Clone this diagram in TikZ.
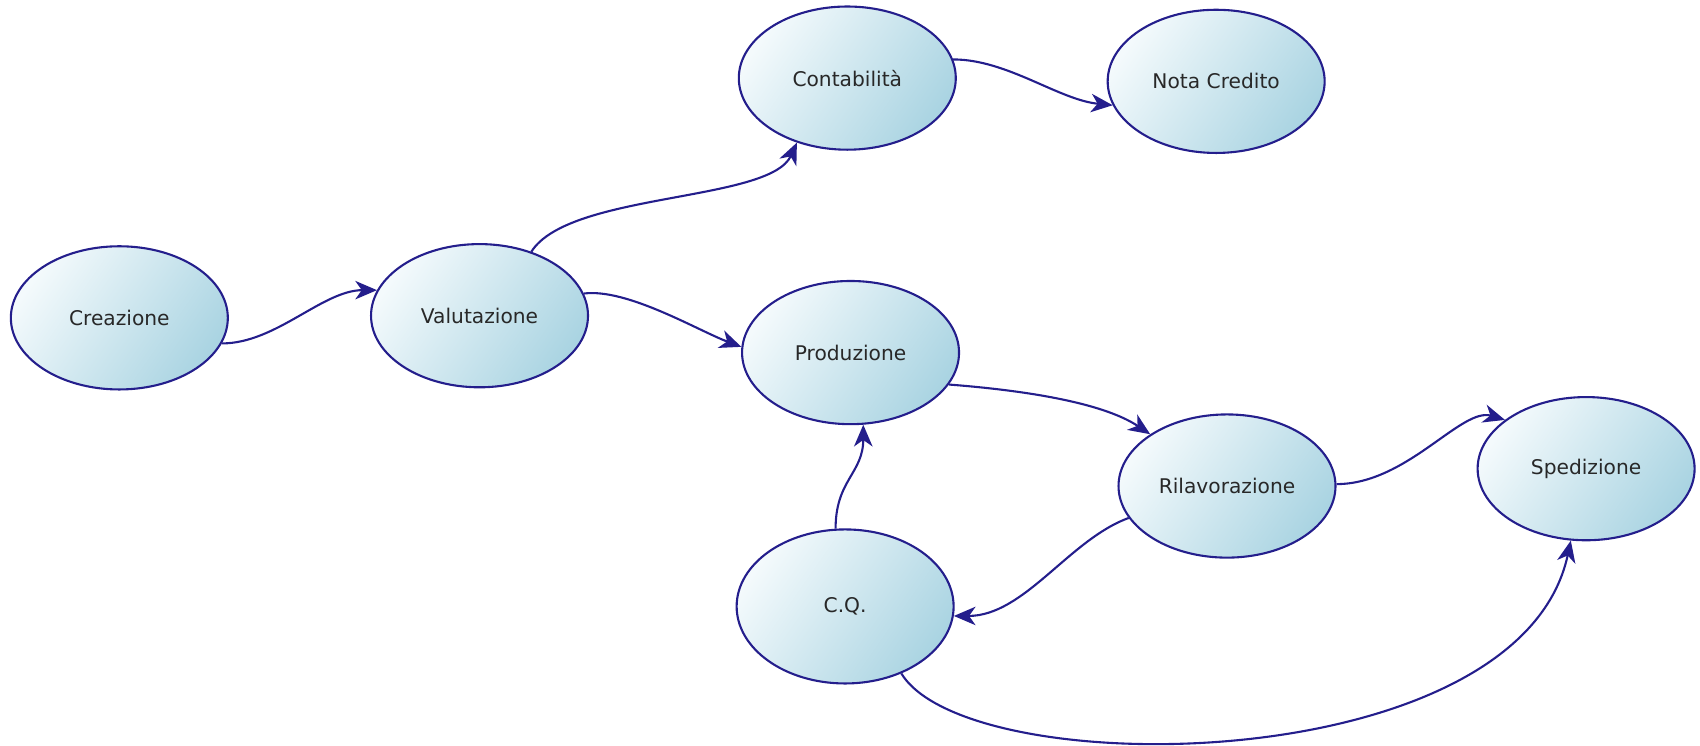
\documentclass[tikz,border=0pt]{standalone}
\usepackage{fontspec}
\setmainfont{DejaVu Sans}
\usetikzlibrary{shapes.geometric,arrows.meta}
\definecolor{navy}{RGB}{36,30,140}
\definecolor{fillA}{RGB}{244,250,252}
\definecolor{fillB}{RGB}{170,212,226}
\definecolor{txt}{RGB}{40,40,40}
\tikzset{
  stnode/.style={ellipse, draw=navy, line width=0.55pt, inner sep=0pt,
    top color=fillA, bottom color=fillB, shading angle=55,
    minimum width=20mm, minimum height=13.2mm,
    text=txt, font=\fontsize{5.3}{6}\selectfont},
  link/.style={draw=navy, line width=0.55pt,
    -{Stealth[length=2mm,width=1.7mm,inset=0.6mm]}}
}
\begin{document}
\begin{tikzpicture}[x=0.1mm,y=-0.1mm]
\useasboundingbox (0,0) rectangle (1567,687);
\node[stnode] (cre) at (110,293) {Creazione};
\node[stnode] (val) at (442,291) {Valutazione};
\node[stnode] (con) at (781,72) {Contabilità};
\node[stnode] (not) at (1121,75) {Nota Credito};
\node[stnode] (pro) at (784,325) {Produzione};
\node[stnode] (ril) at (1131,448) {Rilavorazione};
\node[stnode] (spe) at (1462,432) {Spedizione};
\node[stnode, minimum height=14.2mm] (cq) at (779,559) {C.Q.};

\draw[link] (cre.-14) .. controls +(50,0) and +(-50,0) .. (val.166);
\draw[link] (val.51) .. controls +(35,-55) and +(-25,55) .. (con.232);
\draw[link] (con.10) .. controls +(50,0) and +(-50,-5) .. (not.193);
\draw[link] (val.12) .. controls +(40,-5) and +(-40,-15) .. (pro.177);
\draw[link] (pro.-18) .. controls +(65,5) and +(-45,-30) .. (ril.146);
\draw[link] (cq.97) .. controls +(0,-45) and +(0,45) .. (pro.-80);
\draw[link] (ril.198) .. controls +(-55,20) and +(65,0) .. (cq.-5);
\draw[link] (ril.1) .. controls +(65,0) and +(-40,-12) .. (spe.149);
\draw[link] (cq.-50) .. controls +(62,102) and +(-47,220) .. (spe.-102);
\end{tikzpicture}
\end{document}
